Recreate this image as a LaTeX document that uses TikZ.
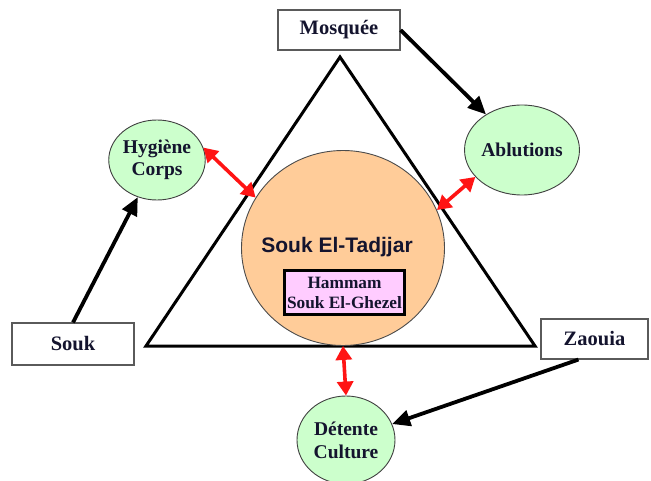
\documentclass[tikz,border=0pt]{standalone}
\usepackage{fontspec}
\setmainfont{Liberation Serif}
\newfontfamily\headsans{Liberation Sans}
\usetikzlibrary{shapes.geometric,arrows.meta}
\definecolor{ink}{HTML}{14142E}
\definecolor{peach}{HTML}{FFCC99}
\definecolor{mint}{HTML}{CCFFCC}
\definecolor{lilac}{HTML}{FFCCFF}
\definecolor{frame}{HTML}{5A5A5A}
\definecolor{bronze}{HTML}{7A6650}
\definecolor{arrowred}{HTML}{FF1414}
\begin{document}
\begin{tikzpicture}[x=1pt,y=-1pt,
  place/.style={draw=frame,line width=1.1pt,fill=white,minimum width=122pt,
    minimum height=40pt,inner sep=0pt,
    font=\fontsize{20.5}{22}\selectfont\bfseries,text=ink},
  theme/.style={ellipse,draw=black!75,line width=0.9pt,fill=mint,inner sep=0pt,
    align=center,font=\fontsize{19.5}{22}\selectfont\bfseries,text=ink},
  flow/.style={line width=3.8pt,-{Triangle[length=18pt,width=16pt]}},
  link/.style={draw=arrowred,line width=3.6pt,
    {Triangle[length=14pt,width=16pt]}-{Triangle[length=14pt,width=16pt]}}]
\useasboundingbox (0,0) rectangle (651,481);

% central triangle
\draw[line width=3pt,line join=miter] (340,57) -- (146,346) -- (535,346) -- cycle;

% the souk at the heart of the triangle
\node[ellipse,draw=black!70,line width=0.9pt,fill=peach,minimum width=203pt,
  minimum height=195pt,inner sep=0pt] (tad) at (343,248) {};
\node[anchor=base,font=\headsans\fontsize{21}{24}\selectfont\bfseries,text=ink]
  (tadlabel) at (337,253) {Souk El-Tadjjar};
\node[draw=bronze,double=black,double distance=2.2pt,line width=0.7pt,fill=lilac,
  minimum width=120pt,minimum height=44pt,inner sep=0pt,align=center,
  font=\fontsize{17.3}{20}\selectfont\bfseries,text=ink]
  (ham) at (344.5,292.5) {Hammam\\Souk El-Ghezel};

% places
\node[place] (mosq) at (339,30) {Mosquée};
\node[place,minimum height=42pt] (souk) at (73,344) {Souk};
\node[place,minimum width=107pt] (zao) at (594.5,339) {Zaouia};

% practices
\node[theme,minimum width=96pt,minimum height=80pt] (hyg) at (157,160) {Hygiène\\Corps};
\node[theme,minimum width=98pt,minimum height=90pt] (abl) at (522,150) {Ablutions};
\node[theme,minimum width=98pt,minimum height=88pt,font=\fontsize{19.5}{23}\selectfont\bfseries]
  (det) at (346,440) {Détente\\Culture};

% influences
\draw[flow] (mosq.east) -- (abl);
\draw[flow] (souk.north) -- (hyg);
\draw[flow] ([xshift=-16pt]zao.south) -- (det);

% exchanges with the souk
\draw[link] (hyg.15) -- (tad.150);
\draw[link] (abl.210) -- (tad.22);
\draw[link] (tad.south) -- (det.north);
\end{tikzpicture}
\end{document}
